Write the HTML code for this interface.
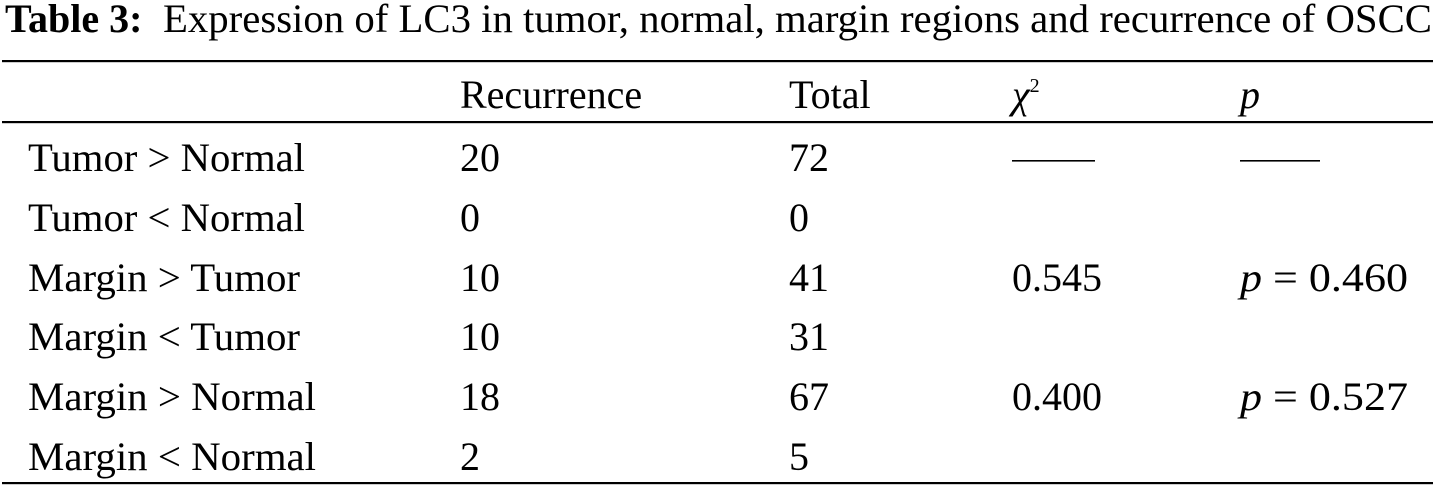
<!DOCTYPE html>
<html>
<head>
<meta charset="utf-8">
<style>
  html, body { margin: 0; padding: 0; background: #fff; }
  body { width: 1435px; height: 486px; overflow: hidden; }
  svg { display: block; }
  text { font-family: "Liberation Serif", "Times New Roman", serif; font-size: 40px; fill: #000; }
  .b { font-weight: bold; }
  .i { font-style: italic; }
</style>
</head>
<body>
<svg width="1435" height="486" viewBox="0 0 1435 486" xmlns="http://www.w3.org/2000/svg">
  <!-- Title -->
  <text x="5" y="32" class="b">Table 3:</text>
  <text x="163" y="32" textLength="1269" lengthAdjust="spacingAndGlyphs">Expression of LC3 in tumor, normal, margin regions and recurrence of OSCC</text>

  <!-- Rules -->
  <rect x="2" y="60" width="1431" height="2.2" fill="#000"/>
  <rect x="2" y="121" width="1431" height="2.2" fill="#000"/>
  <rect x="2" y="482" width="1431" height="2.2" fill="#000"/>

  <!-- Header -->
  <text x="460" y="108">Recurrence</text>
  <text x="789" y="108">Total</text>
  <text x="1012" y="108" class="i">χ<tspan font-size="20" dy="-16" font-style="normal">2</tspan></text>
  <text x="1240" y="108" class="i">p</text>

  <!-- Row 1 -->
  <text x="28" y="171" textLength="277" lengthAdjust="spacingAndGlyphs">Tumor &gt; Normal</text>
  <text x="460" y="171">20</text>
  <text x="789" y="171">72</text>
  <rect x="1012" y="160" width="83" height="1.6" fill="#000"/>
  <rect x="1240" y="160" width="80" height="1.6" fill="#000"/>

  <!-- Row 2 -->
  <text x="28" y="231" textLength="277" lengthAdjust="spacingAndGlyphs">Tumor &lt; Normal</text>
  <text x="460" y="231">0</text>
  <text x="789" y="231">0</text>

  <!-- Row 3 -->
  <text x="28" y="291" textLength="272" lengthAdjust="spacingAndGlyphs">Margin &gt; Tumor</text>
  <text x="460" y="291">10</text>
  <text x="789" y="291">41</text>
  <text x="1012" y="291">0.545</text>
  <text x="1240" y="291" textLength="168" lengthAdjust="spacingAndGlyphs"><tspan class="i">p</tspan> = 0.460</text>

  <!-- Row 4 -->
  <text x="28" y="350" textLength="272" lengthAdjust="spacingAndGlyphs">Margin &lt; Tumor</text>
  <text x="460" y="350">10</text>
  <text x="789" y="350">31</text>

  <!-- Row 5 -->
  <text x="28" y="410" textLength="288" lengthAdjust="spacingAndGlyphs">Margin &gt; Normal</text>
  <text x="460" y="410">18</text>
  <text x="789" y="410">67</text>
  <text x="1012" y="410">0.400</text>
  <text x="1240" y="410" textLength="168" lengthAdjust="spacingAndGlyphs"><tspan class="i">p</tspan> = 0.527</text>

  <!-- Row 6 -->
  <text x="28" y="470" textLength="288" lengthAdjust="spacingAndGlyphs">Margin &lt; Normal</text>
  <text x="460" y="470">2</text>
  <text x="789" y="470">5</text>
</svg>
</body>
</html>
